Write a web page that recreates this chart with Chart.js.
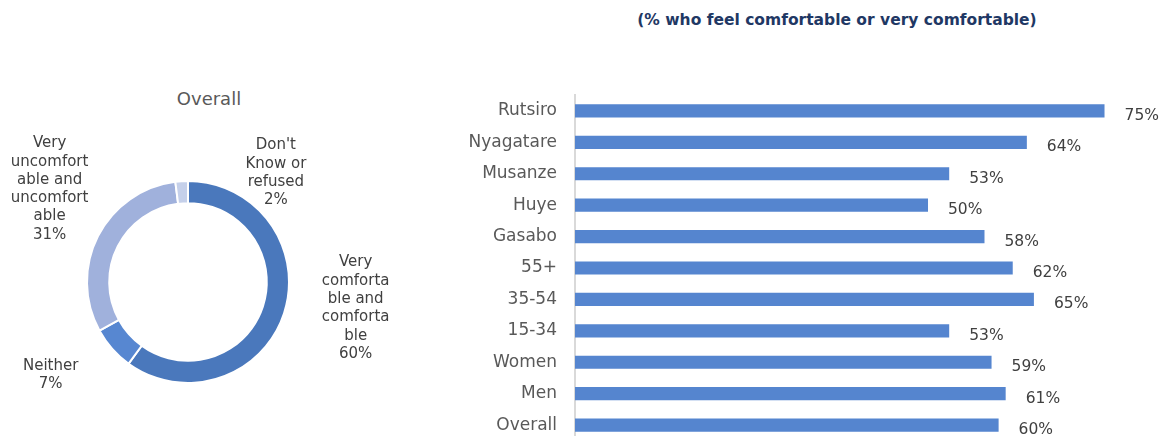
<!DOCTYPE html>
<html>
<head>
<meta charset="utf-8">
<script src="https://cdn.jsdelivr.net/npm/chart.js@4/dist/chart.umd.min.js"></script>
<style>
  html, body { margin: 0; padding: 0; background: #fff; width: 1161px; height: 436px; overflow: hidden; }
  body { position: relative; font-family: 'DejaVu Sans', sans-serif; }
  .heading { position: absolute; left: 600px; width: 474px; top: 11px; text-align: center;
             font-weight: bold; font-size: 15.5px; color: #1f3864; }
  .donut-title { position: absolute; left: 109px; width: 200px; top: 88px; text-align: center;
                 font-size: 18px; color: #595959; }
  #donutBox { position: absolute; left: 0; top: 80px; width: 420px; height: 356px; }
  /* box runs past the window: the reference cuts the bar chart off at the bottom */
  #barBox { position: absolute; left: 440px; top: 67px; width: 721px; height: 402px; }
</style>
</head>
<body>
<div class="heading">(% who feel comfortable or very comfortable)</div>
<div class="donut-title">Overall</div>
<div id="donutBox"><canvas id="donut"></canvas></div>
<div id="barBox"><canvas id="bars"></canvas></div>
<script>
/* ── Data ── */
const donutCategories = ['Very comfortable and comfortable', 'Neither', 'Very uncomfortable and uncomfortable', "Don't Know or refused"];
const donutValues = [60, 7, 31, 2];
const donutLabelLines = [
  ['Very', 'comforta', 'ble and', 'comforta', 'ble'],
  ['Neither'],
  ['Very', 'uncomfort', 'able and', 'uncomfort', 'able'],
  ["Don't", 'Know or', 'refused']
];

const barCategories = ['Rutsiro', 'Nyagatare', 'Musanze', 'Huye', 'Gasabo', '55+', '35-54', '15-34', 'Women', 'Men', 'Overall'];
const barValues = [75, 64, 53, 50, 58, 62, 65, 53, 59, 61, 60];

/* ── Style ── */
const FONT = "'DejaVu Sans', sans-serif";
const donutColors = ['#4a78bc', '#5787d1', '#a0b1dc', '#c5d0ea'];
const barColor = '#5585cf';
const textColor = '#404040';
const X_MAX = 83;

/* label anchors, in units of the ring's outer radius from its centre */
const donutLabelAnchors = [[1.66, 0.26], [-1.36, 0.92], [-1.37, -0.92], [0.87, -1.08]];

/* Doughnut data labels */
const donutLabelPlugin = {
  id: 'donutLabels',
  afterDatasetsDraw(chart) {
    const ctx = chart.ctx;
    const arcs = chart.getDatasetMeta(0).data;
    const lineH = 18.3;
    ctx.save();
    ctx.font = '15px ' + FONT;
    ctx.fillStyle = textColor;
    ctx.textAlign = 'center';
    ctx.textBaseline = 'middle';
    arcs.forEach((arc, i) => {
      const lines = donutLabelLines[i].concat([donutValues[i] + '%']);
      const [ax, ay] = donutLabelAnchors[i];
      const cx = arc.x + ax * arc.outerRadius;
      const cy = arc.y + ay * arc.outerRadius;
      const top = cy - (lines.length - 1) * lineH / 2;
      lines.forEach((ln, j) => ctx.fillText(ln, cx, top + j * lineH));
    });
    ctx.restore();
  }
};

/* Bar value labels */
const barLabelPlugin = {
  id: 'barLabels',
  afterDatasetsDraw(chart) {
    const ctx = chart.ctx;
    ctx.save();
    ctx.font = '15.5px ' + FONT;
    ctx.fillStyle = textColor;
    ctx.textAlign = 'left';
    ctx.textBaseline = 'middle';
    chart.getDatasetMeta(0).data.forEach((bar, i) => {
      ctx.fillText(barValues[i] + '%', bar.x + 20, bar.y + 5);
    });
    ctx.restore();
  }
};

new Chart(document.getElementById('donut'), {
  type: 'doughnut',
  data: {
    labels: donutCategories,
    datasets: [{
      data: donutValues,
      backgroundColor: donutColors,
      borderColor: '#ffffff',
      borderWidth: 2,
    }]
  },
  options: {
    responsive: true,
    maintainAspectRatio: false,
    animation: false,
    cutout: '78%',
    layout: { padding: { left: 86, right: 130, top: 100, bottom: 52 } },
    plugins: { legend: { display: false }, tooltip: { enabled: false } }
  },
  plugins: [donutLabelPlugin]
});

new Chart(document.getElementById('bars'), {
  type: 'bar',
  data: {
    labels: barCategories,
    datasets: [{
      data: barValues,
      backgroundColor: barColor,
      barPercentage: 0.42,
      categoryPercentage: 1,
    }]
  },
  options: {
    indexAxis: 'y',
    responsive: true,
    maintainAspectRatio: false,
    animation: false,
    layout: { padding: 0 },
    scales: {
      x: { display: false, min: 0, max: X_MAX },
      y: {
        afterFit: (scale) => { scale.width = 135; },
        grid: { display: false, drawTicks: false },
        border: { display: true, color: '#d9d9d9', width: 2 },
        ticks: { color: '#595959', padding: 18, font: { family: FONT, size: 17 } }
      }
    },
    plugins: { legend: { display: false }, tooltip: { enabled: false } }
  },
  plugins: [barLabelPlugin]
});
</script>
</body>
</html>
